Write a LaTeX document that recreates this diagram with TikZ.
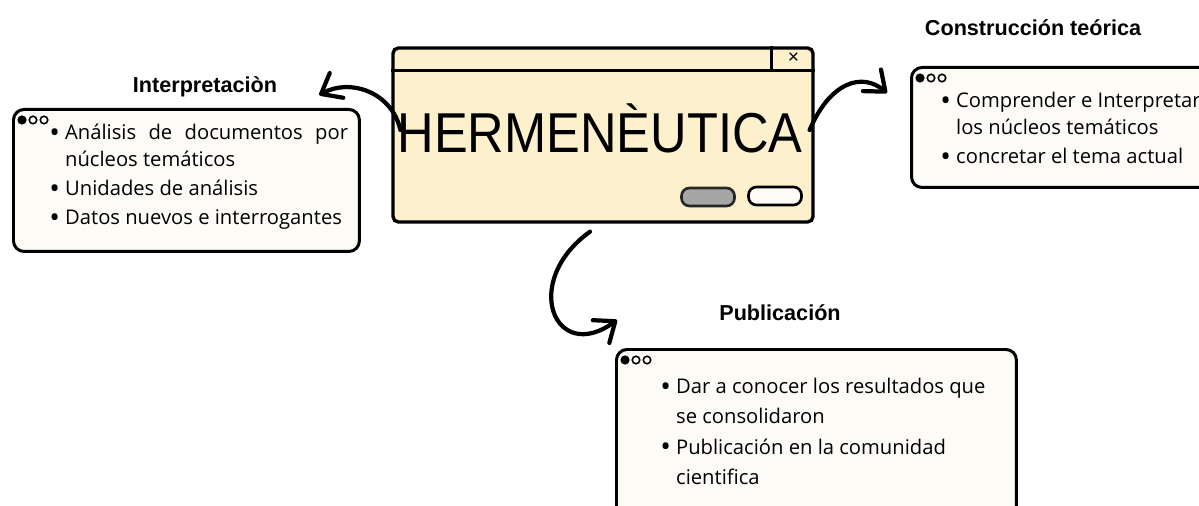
\documentclass[tikz,border=0pt]{standalone}
\usepackage{fontspec}
\setmainfont{Open Sans}
\newfontfamily\arialf{Liberation Sans}
\usetikzlibrary{calc,positioning,arrows.meta}
\definecolor{winfill}{RGB}{252,241,204}
\definecolor{notefill}{RGB}{253,251,245}
\tikzset{
  win/.style={draw, line width=1.9pt, fill=winfill, rounded corners=3pt, minimum width=8.4cm, minimum height=3.48cm},
  note/.style={draw, line width=1.7pt, fill=notefill, rounded corners=6pt, anchor=north west},
  ttl/.style={font=\arialf\bfseries\fontsize{12.3}{14}\selectfont},
  body/.style={anchor=north west, inner sep=0pt, align=left, font=\fontsize{11.5}{15}\selectfont},
  arr/.style={line width=2.4pt, line cap=round, -{Straight Barb[length=10pt,width=16pt,round]}},
  pill/.style={draw, line width=1.5pt, rounded corners=4.5pt, minimum width=1.06cm, minimum height=0.36cm},
  wdot/.style={draw, line width=0.9pt, circle, inner sep=0pt, minimum size=0.15cm},
}
\newcommand{\bul}{\makebox[9pt][l]{\raisebox{-1.4pt}{\scalebox{1.4}{\textbullet}}}}
\newcommand{\ind}{\hspace*{9pt}}

\begin{document}
\begin{tikzpicture}[x=0.02cm, y=-0.02cm]
  \useasboundingbox (0,0) rectangle (1199,506);
  \clip (0,0) rectangle (1199,506);

  %%%%% main window %%%%%
  \node[win] (win) at (603,135) {};
  \draw[line width=1.6pt] ($(win.north west)+(0,24)$) -- ($(win.north east)+(0,24)$);
  \draw[line width=1.3pt] ($(win.north east)+(-43,0)$) -- ($(win.north east)+(-43,24)$);
  \node[font=\arialf\fontsize{11}{12}\selectfont] (close) at ($(win.north east)+(-21,12)$) {×};
  \node[font=\arialf\fontsize{32}{34}\selectfont, inner sep=0pt, xscale=0.9] (name) at (600,128) {HERMENÈUTICA};
  \node[pill, fill=gray!70, draw=black!85] (okbtn) at (708,197) {};
  \node[pill, fill=notefill] (nobtn) at (775,196) {};

  %%%%% notes %%%%%
  \node[note, minimum width=6.92cm, minimum height=2.84cm] (lbox) at (12,108) {};
  \node[ttl] (ltitle) at (205,87) {Interpretaciòn};
  \node[body] (ltext) at ($(lbox.north west)+(37,16)$) {%
    \bul\hbox to 161pt{Análisis\hfill de\hfill documentos\hfill por}\\
    \ind núcleos temáticos\\[1.8pt]
    \bul Unidades de análisis\\[1.6pt]
    \bul Datos nuevos e interrogantes};

  \node[note, minimum width=6.2cm, minimum height=2.4cm] (cbox) at (910,66) {};
  \node[ttl] (ctitle) at (1033,28) {Construcción teórica};
  \node[body] (ctext) at ($(cbox.north west)+(30,26)$) {%
    \bul Comprender e Interpretar\\
    \ind los núcleos temáticos\\[1.8pt]
    \bul concretar el tema actual};

  \node[note, minimum width=8cm, minimum height=3.6cm] (pbox) at (615,348) {};
  \node[ttl] (ptitle) at (780,313) {Publicación};
  \node[body] (ptext) at ($(pbox.north west)+(45,30)$) {%
    \bul Dar a conocer los resultados que\\[2pt]
    \ind se consolidaron\\[2.4pt]
    \bul Publicación en la comunidad\\[2pt]
    \ind cientifica};

  \foreach \b in {lbox,cbox,pbox}{
    \node[wdot, fill=black] at ($(\b.north west)+(10,12)$) {};
    \node[wdot] at ($(\b.north west)+(21,12)$) {};
    \node[wdot] at ($(\b.north west)+(32,12)$) {};
  }

  %%%%% arrows %%%%%
  \draw[arr] ($(win.west)+(9,-5)$) .. controls (392,92) and (350,78) .. ($(ltitle.east)+(36,8)$);
  \draw[arr] ($(win.east)+(-5,-5)$) .. controls (830,82) and (862,72) .. ($(cbox.north west)+(-23,27)$);
  \draw[arr] ($(win.south)+(-13,8)$) .. controls (520,282) and (555,365) .. ($(pbox.north west)+(2,-28)$);
\end{tikzpicture}
\end{document}
